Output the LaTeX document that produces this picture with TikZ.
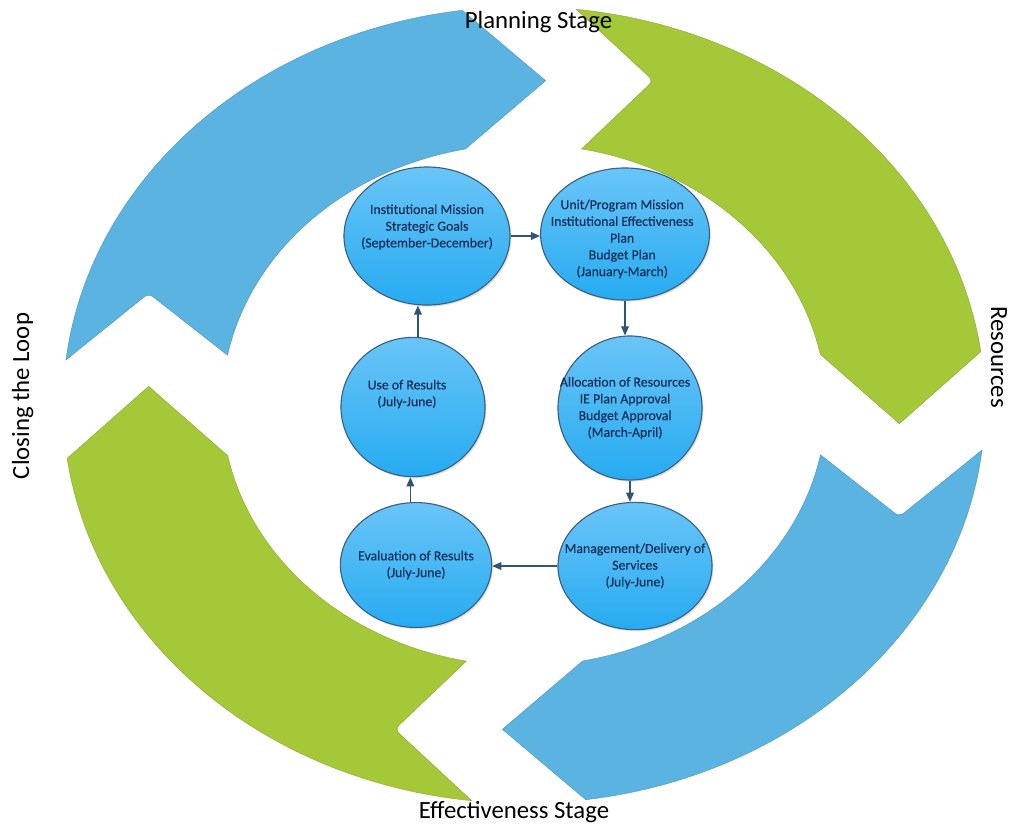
\documentclass[tikz,border=0pt]{standalone}
\usepackage{fontspec}
\setmainfont{Carlito}
\newfontfamily\bubblefont{Carlito}[FakeBold=0.5]
\usetikzlibrary{arrows.meta,shapes.geometric,shadows}

\definecolor{ringblue}{RGB}{91,179,225}
\definecolor{ringgreen}{RGB}{164,200,56}
\definecolor{bubbletop}{RGB}{106,197,247}
\definecolor{bubblebot}{RGB}{38,171,241}
\definecolor{bubbleedge}{RGB}{58,96,132}
\definecolor{bubbletext}{RGB}{22,48,90}
\definecolor{flowline}{RGB}{46,84,118}

\begin{document}
\begin{tikzpicture}[x=0.025cm, y=-0.025cm,
  bubble/.style={ellipse, draw=bubbleedge, line width=0.8pt, top color=bubbletop, bottom color=bubblebot, inner sep=0pt,
    drop shadow={opacity=0.25, shadow xshift=1pt, shadow yshift=-1.2pt}},
  words/.style={align=center, inner sep=0pt, text=bubbletext, font=\bubblefont\fontsize{9.8}{11.9}\selectfont},
  flow/.style={draw=flowline, line width=0.9pt, -{Triangle[length=6.5pt, width=5.5pt]}},
  stage/.style={inner sep=0pt, font=\fontsize{17.6}{21}\selectfont}]
\path[use as bounding box, fill=white] (0,0) rectangle (1013,825);

% ring of four curved arrows, one shape turned a quarter each time
\begin{scope}[shift={(524,405)}, yscale=0.864, x=0.025cm, y=0.025cm]
  \foreach \turn/\col in {0/ringblue, -90/ringgreen, -180/ringblue, -270/ringgreen}
    \filldraw[fill=\col, draw=\col!85!black, line width=0.3pt, rotate=\turn]
      plot[domain=173.5:97.7, samples=60] (\x:461) -- (86.7:376)
      -- plot[domain=101.2:169, samples=60] (\x:302)
      [rounded corners=4pt] -- (161:397) [sharp corners] -- cycle;
\end{scope}

% process bubbles
\node[bubble, minimum width=4.15cm, minimum height=3.45cm] (inst) at (427,236) {};
\node[bubble, minimum width=4.22cm, minimum height=3.3cm] (unit) at (625,234) {};
\node[bubble, minimum width=3.6cm, minimum height=3.6cm] (alloc) at (630,408) {};
\node[bubble, minimum width=3.85cm, minimum height=3.18cm] (mgmt) at (635,566) {};
\node[bubble, minimum width=3.78cm, minimum height=3.12cm] (eval) at (416,565) {};
\node[bubble, minimum width=3.6cm, minimum height=3.48cm] (use) at (413,407) {};

\node[words] (insttext) at ([yshift=6.4pt]inst.center) {Institutional Mission\\Strategic Goals\\(September-December)};
\node[words] (unittext) at ([xshift=-2pt, yshift=-3.5pt]unit.center) {Unit/Program Mission\\Institutional Effectiveness\\Plan\\Budget Plan\\(January-March)};
\node[words] (alloctext) at ([xshift=-3.5pt]alloc.center) {Allocation of Resources\\IE Plan Approval\\Budget Approval\\(March-April)};
\node[words] (mgmttext) at (mgmt) {Management/Delivery of\\Services\\(July-June)};
\node[words] (evaltext) at (eval) {Evaluation of Results\\(July-June)};
\node[words] (usetext) at ([xshift=-4.3pt, yshift=9.2pt]use.center) {Use of Results\\(July-June)};

\draw[flow] (inst.east) -- (inst.east -| unit.west);
\draw[flow] (unit.south) -- (unit.south |- alloc.north);
\draw[flow] (alloc.south) -- (alloc.south |- mgmt.north);
\draw[flow] (mgmt.west) -- (mgmt.west -| eval.east);
\draw[flow] ([xshift=-4pt]eval.north) -- ([xshift=-4pt]eval.north |- use.south);
\draw[flow] ([xshift=3.5pt]use.north) -- ([xshift=3.5pt]use.north |- inst.south);

% stage names round the ring
\node[stage, anchor=base] (planning) at (538.5,28) {Planning Stage};
\node[stage, anchor=base] (effect) at (514,818) {Effectiveness Stage};
\node[stage, anchor=base, rotate=90] (closing) at (29,396) {Closing the Loop};
\node[stage, anchor=base, rotate=-90] (resources) at (991,357) {Resources};
\end{tikzpicture}
\end{document}
